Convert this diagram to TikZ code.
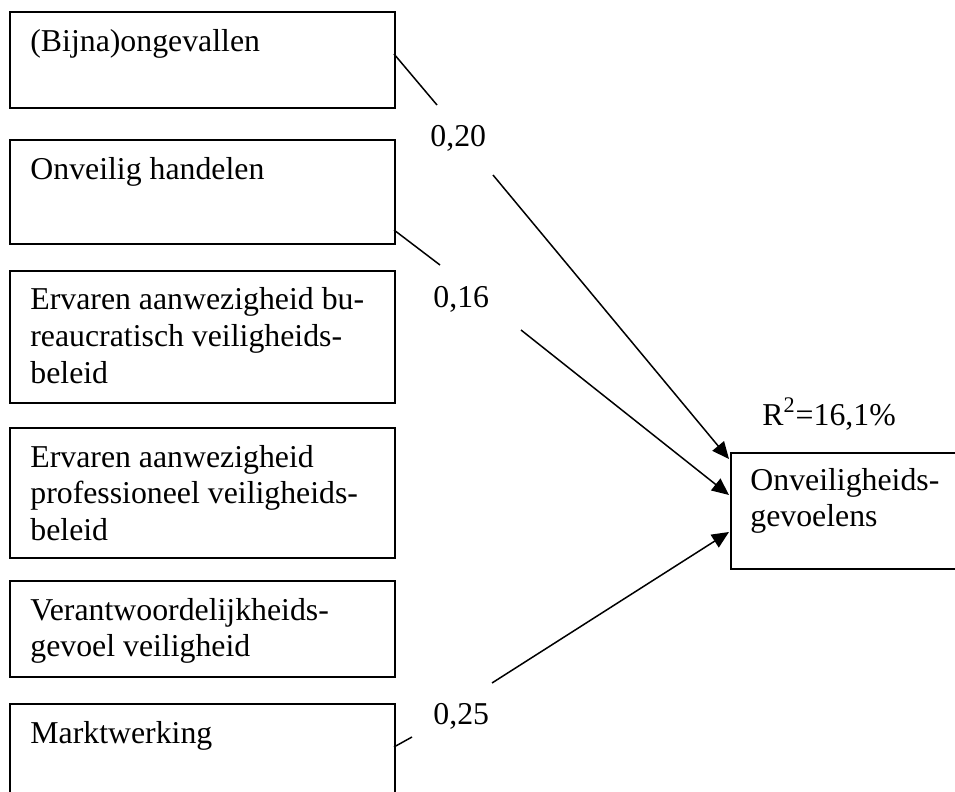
\documentclass[tikz,border=0pt]{standalone}
\usepackage{fontspec}
\setmainfont{Liberation Serif}
\usetikzlibrary{arrows.meta}
\tikzset{
  box/.style={draw, line width=1pt, anchor=north west, inner sep=0pt, minimum width=192.5pt},
  txt/.style={anchor=base west, inner sep=0pt, font=\fontsize{15.9}{18.3}\selectfont},
  conn/.style={line width=0.75pt},
  arr/.style={line width=0.75pt, -{Triangle[length=8.5pt, width=7.5pt]}}
}
\begin{document}
\begin{tikzpicture}[x=0.5pt, y=-0.5pt]
\useasboundingbox (0,0) rectangle (955,792);
\clip (0,0) rectangle (955,792);
% left boxes
\node[box, minimum height=48pt] (b1) at (9,11) {};
\node[box, minimum height=52pt] (b2) at (9,139) {};
\node[box, minimum height=66pt] (b3) at (9,270) {};
\node[box, minimum height=65pt] (b4) at (9,427) {};
\node[box, minimum height=48pt] (b5) at (9,580) {};
\node[box, minimum height=55pt] (b6) at (9,703) {};
% target box
\node[box, minimum width=150pt, minimum height=58pt] (tg) at (730,452) {};
% texts
\node[txt] (t1) at (30,52) {(Bijna)ongevallen};
\node[txt] (t2) at (30,180) {Onveilig handelen};
\node[txt] (t3) at (30,310) {\parbox[t]{185pt}{Ervaren aanwezigheid bu-\\reaucratisch veiligheids-\\beleid}};
\node[txt] (t4) at (30,467) {\parbox[t]{185pt}{Ervaren aanwezigheid\\professioneel veiligheids-\\beleid}};
\node[txt] (t5) at (30,620) {\parbox[t]{185pt}{Verantwoordelijkheids-\\gevoel veiligheid}};
\node[txt] (t6) at (30,743) {Marktwerking};
\node[txt] (tt) at (750,490) {\parbox[t]{110pt}{Onveiligheids-\\gevoelens}};
% labels
\node[txt] (l1) at (430,147) {0,20};
\node[txt] (l2) at (433,307) {0,16};
\node[txt] (l3) at (433,724) {0,25};
\node[txt] (r2) at (762,425) {R\textsuperscript{2}=16,1\%};
% connector points
\coordinate (s1) at (394,54);
\coordinate (g1a) at (437,105);
\coordinate (g1b) at (493,175);
\coordinate (e1) at (729,459);
\coordinate (s2) at (394,230);
\coordinate (g2a) at (440,265);
\coordinate (g2b) at (521,330);
\coordinate (e2) at (729,495);
\coordinate (s6) at (394,747);
\coordinate (g6a) at (412,737);
\coordinate (g6b) at (492,683);
\coordinate (e6) at (729,532);
\draw[conn] (s1) -- (g1a);
\draw[arr] (g1b) -- (e1);
\draw[conn] (s2) -- (g2a);
\draw[arr] (g2b) -- (e2);
\draw[conn] (s6) -- (g6a);
\draw[arr] (g6b) -- (e6);
\end{tikzpicture}
\end{document}
